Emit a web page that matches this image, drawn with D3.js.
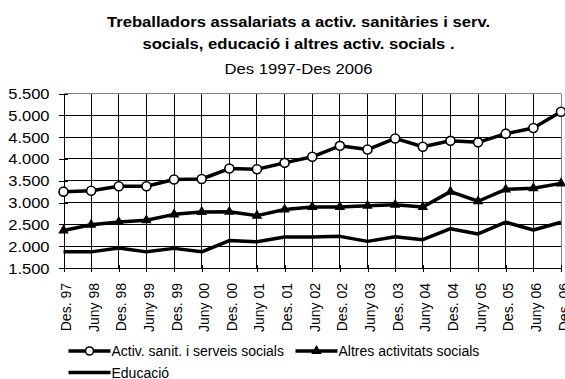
<!DOCTYPE html>
<html><head><meta charset="utf-8">
<script src="https://cdn.jsdelivr.net/npm/d3@7"></script>
<style>
html,body{margin:0;padding:0;background:#fff;}
svg{display:block;font-family:"Liberation Sans",Arial,sans-serif;}
</style></head>
<body>
<svg id="c" width="565" height="379"></svg>
<script>
const categories = ["Des. 97","Juny 98","Des. 98","Juny 99","Des. 99","Juny 00","Des. 00","Juny 01","Des. 01","Juny 02","Des. 02","Juny 03","Des. 03","Juny 04","Des. 04","Juny 05","Des. 05","Juny 06","Des. 06"];
const sanitValues = [3250,3270,3375,3375,3530,3540,3780,3765,3910,4050,4300,4215,4470,4280,4415,4380,4580,4710,5080];
const altresValues = [2360,2490,2555,2595,2730,2785,2790,2700,2840,2900,2900,2925,2950,2900,3250,3030,3300,3330,3440];
const educValues = [1870,1870,1960,1870,1950,1870,2130,2100,2210,2210,2225,2110,2215,2150,2400,2280,2550,2370,2550];
const yTicks = [1500,2000,2500,3000,3500,4000,4500,5000,5500];
const seriesNames = ["Activ. sanit. i serveis socials","Altres activitats socials","Educació"];
const titleLines = ["Treballadors assalariats a activ. sanitàries i serv.","socials, educació i altres activ. socials .","Des 1997-Des 2006"];

const svg = d3.select("#c");
const x = d3.scalePoint().domain(categories).range([63.5, 561]);
const y = d3.scaleLinear().domain([1500,5500]).range([268, 93.5]);
const fmt = d => d3.format(",")(d).replace(/,/g, ".");

// title
const tg = svg.append("g").attr("transform","translate(298.5,0) scale(1.11,1)");
tg.append("text").attr("x",0).attr("y",27).attr("text-anchor","middle").attr("font-weight","bold").attr("font-size",15).text(titleLines[0]);
tg.append("text").attr("x",0).attr("y",49.5).attr("text-anchor","middle").attr("font-weight","bold").attr("font-size",15).text(titleLines[1]);
tg.append("text").attr("x",0).attr("y",74).attr("text-anchor","middle").attr("font-size",15).text(titleLines[2]);

// gridlines
const grid = svg.append("g").attr("shape-rendering","crispEdges");
grid.selectAll("line.h").data(yTicks.filter(t => t > 1500 && t < 5500)).join("line")
  .attr("x1", x.range()[0]).attr("x2", x.range()[1])
  .attr("y1", d => y(d)).attr("y2", d => y(d))
  .attr("stroke","#000").attr("stroke-width",1);
grid.selectAll("line.v").data(categories.slice(1, -1)).join("line")
  .attr("x1", d => x(d)).attr("x2", d => x(d))
  .attr("y1", y(5500)).attr("y2", y(1500))
  .attr("stroke","#000").attr("stroke-width",1);
grid.append("line").attr("x1",x.range()[0]).attr("x2",x.range()[1]).attr("y1",y(5500)).attr("y2",y(5500)).attr("stroke","#808080");
grid.append("line").attr("x1",x.range()[1]).attr("x2",x.range()[1]).attr("y1",y(5500)).attr("y2",y(1500)).attr("stroke","#808080");

// y axis
const yAxis = svg.append("g").attr("transform",`translate(${x.range()[0]},0)`)
  .call(d3.axisLeft(y).tickValues(yTicks).tickFormat(fmt).tickSizeInner(5).tickSizeOuter(0))
  .attr("shape-rendering","crispEdges");
yAxis.select(".domain").attr("stroke","#000");
yAxis.selectAll(".tick line").attr("x1",-5).attr("x2",4).attr("stroke","#000");
yAxis.selectAll(".tick text").attr("font-size",14).attr("font-family","Liberation Sans, Arial, sans-serif")
  .attr("fill","#000").attr("x",-14/1.18).attr("dy","0.36em").attr("transform","scale(1.18,1)");

// x axis
const xAxis = svg.append("g").attr("transform",`translate(0,${y(1500)})`)
  .call(d3.axisBottom(x).tickSizeInner(4).tickSizeOuter(0))
  .attr("shape-rendering","crispEdges");
xAxis.select(".domain").attr("stroke","#000");
xAxis.selectAll(".tick line").attr("y1",-3).attr("y2",4).attr("stroke","#000");
xAxis.selectAll(".tick text").attr("font-size",14).attr("font-family","Liberation Sans, Arial, sans-serif")
  .attr("fill","#000").attr("transform","rotate(-90)").attr("text-anchor","end")
  .attr("x",-15).attr("y",7).attr("dy",0);

// lines
const line = d3.line().x((d,i) => x(categories[i])).y(d => y(d));
const plot = svg.append("g");
plot.append("path").datum(educValues).attr("d",line).attr("fill","none").attr("stroke","#000").attr("stroke-width",3.5).attr("stroke-linejoin","round");
plot.append("path").datum(altresValues).attr("d",line).attr("fill","none").attr("stroke","#000").attr("stroke-width",3.5).attr("stroke-linejoin","round");
plot.append("path").datum(sanitValues).attr("d",line).attr("fill","none").attr("stroke","#000").attr("stroke-width",3.5).attr("stroke-linejoin","round");

const tri = d3.symbol().type(d3.symbolTriangle).size(48);
plot.selectAll("path.tri").data(altresValues).join("path").attr("class","tri")
  .attr("d", tri).attr("transform",(d,i) => `translate(${x(categories[i])},${y(d)})`).attr("fill","#000");
plot.selectAll("circle.m").data(sanitValues).join("circle").attr("class","m")
  .attr("cx",(d,i) => x(categories[i])).attr("cy", d => y(d)).attr("r",4.5)
  .attr("fill","#fff").attr("stroke","#000").attr("stroke-width",1.6);

// legend
const leg = svg.append("g").attr("font-size",14).attr("fill","#000");
const items = [
  {name: seriesNames[0], x: 68.5, y: 351, mk: "circle"},
  {name: seriesNames[1], x: 295.5, y: 351, mk: "tri"},
  {name: seriesNames[2], x: 68.5, y: 372.5, mk: "none"}
];
items.forEach(it => {
  const g = leg.append("g").attr("transform",`translate(${it.x},${it.y})`);
  g.append("line").attr("x1",0).attr("x2",42).attr("y1",0).attr("y2",0).attr("stroke","#000").attr("stroke-width",3.5);
  if (it.mk === "circle") g.append("circle").attr("cx",21).attr("cy",0).attr("r",4).attr("fill","#fff").attr("stroke","#000").attr("stroke-width",1.6);
  if (it.mk === "tri") g.append("path").attr("d",tri).attr("transform","translate(21,0)").attr("fill","#000");
  g.append("text").attr("x",43).attr("y",0).attr("dy","0.36em").text(it.name);
});
</script>
</body></html>
